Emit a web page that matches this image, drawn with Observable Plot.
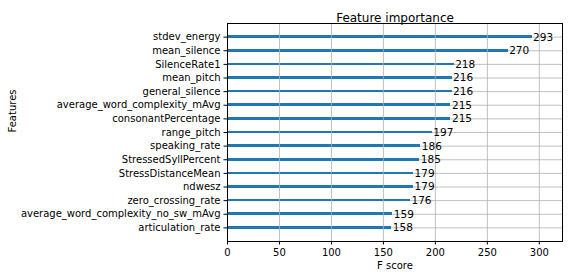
<!DOCTYPE html>
<html>
<head>
<meta charset="utf-8">
<script src="https://cdn.jsdelivr.net/npm/d3@7"></script>
<script src="https://cdn.jsdelivr.net/npm/@observablehq/plot@0.6"></script>
<style>
  html, body { margin: 0; padding: 0; background: white; }
</style>
</head>
<body>
<div id="chart"></div>
<script>
const features = [
  "stdev_energy",
  "mean_silence",
  "SilenceRate1",
  "mean_pitch",
  "general_silence",
  "average_word_complexity_mAvg",
  "consonantPercentage",
  "range_pitch",
  "speaking_rate",
  "StressedSyllPercent",
  "StressDistanceMean",
  "ndwesz",
  "zero_crossing_rate",
  "average_word_complexity_no_sw_mAvg",
  "articulation_rate"
];
const scores = [293, 270, 218, 216, 216, 215, 215, 197, 186, 185, 179, 179, 176, 159, 158];
const xTicks = [0, 50, 100, 150, 200, 250, 300];
const titleText = "Feature importance";
const xLabel = "F score";
const yLabel = "Features";

const n = features.length;
const data = features.map((f, i) => ({feature: f, score: scores[i], pos: n - 1 - i}));
const positions = data.map(d => d.pos);
const xMax = d3.max(scores) * 1.1;

const chart = Plot.plot({
  width: 569,
  height: 278,
  marginLeft: 227,
  marginRight: 7,
  marginTop: 23,
  marginBottom: 37,
  style: {fontFamily: "DejaVu Sans", fontSize: "10px", color: "black", background: "white"},
  x: {domain: [0, xMax], label: null},
  y: {domain: [-1, n], label: null},
  marks: [
    Plot.gridY(positions, {stroke: "#b0b0b0", strokeOpacity: 1, strokeWidth: 0.8}),
    Plot.rectX(data, {x1: 0, x2: "score", y1: d => d.pos - 0.1, y2: d => d.pos + 0.1, fill: "#1f77b4", shapeRendering: "crispEdges"}),
    Plot.gridX(xTicks, {stroke: "#b0b0b0", strokeOpacity: 1, strokeWidth: 0.8}),
    Plot.axisX(xTicks, {tickSize: 3.5, tickPadding: 3.5, label: null, fontSize: 10}),
    Plot.axisY(positions, {tickSize: 3.5, tickPadding: 3.5, label: null, tickFormat: i => features[n - 1 - i], fontSize: 10}),
    Plot.text(data, {x: d => d.score + 1, y: "pos", text: d => String(d.score), textAnchor: "start", fontSize: 10.5, fill: "black"}),
    Plot.frame({stroke: "black", strokeWidth: 1}),
    Plot.text([titleText], {frameAnchor: "top", dy: -10, fontSize: 12, fill: "black"}),
    Plot.text([xLabel], {frameAnchor: "bottom", dy: 27, fontSize: 10, fill: "black"}),
    Plot.text([yLabel], {frameAnchor: "left", dx: -215, rotate: -90, fontSize: 10, fill: "black"})
  ]
});
document.getElementById("chart").appendChild(chart);
</script>
</body>
</html>
